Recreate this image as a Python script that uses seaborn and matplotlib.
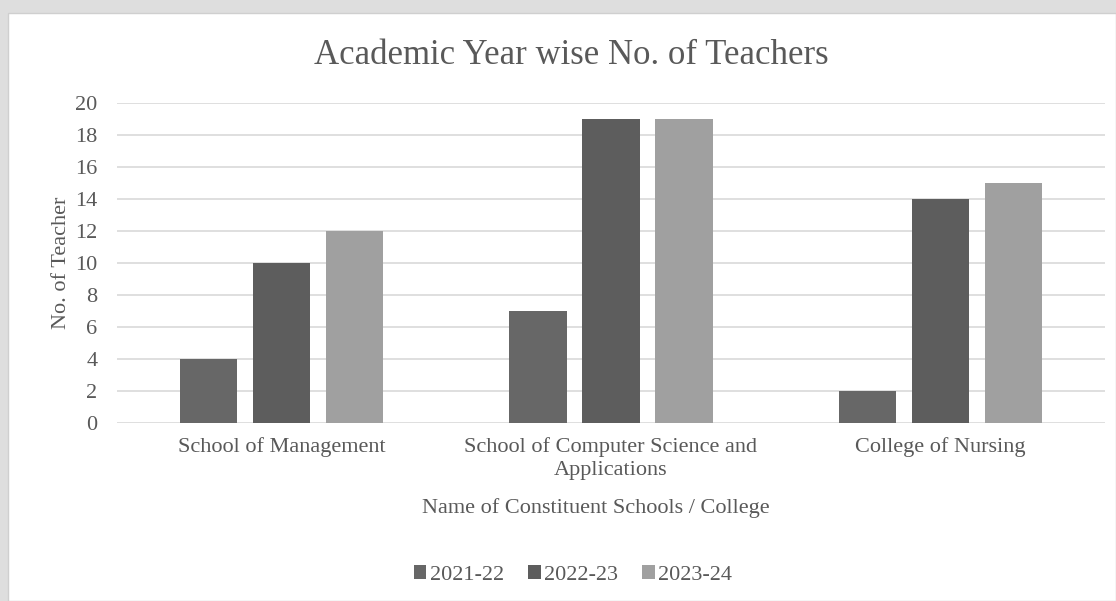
import matplotlib
matplotlib.use("Agg")
import matplotlib.pyplot as plt
import matplotlib.patches as mpatches
import seaborn as sns
import pandas as pd

categories = ["School of Management",
              "School of Computer Science and\nApplications",
              "College of Nursing"]
years = ["2021-22", "2022-23", "2023-24"]
v_2021 = [4, 7, 2]
v_2022 = [10, 19, 14]
v_2023 = [12, 19, 15]
yticks = [0, 2, 4, 6, 8, 10, 12, 14, 16, 18, 20]

rows = []
for yr, vals in zip(years, [v_2021, v_2022, v_2023]):
    for c, v in zip(categories, vals):
        rows.append({"School": c, "Year": yr, "Teachers": v})
df = pd.DataFrame(rows)

sns.set_theme(style="white")
plt.rcParams["font.family"] = ["Liberation Serif", "DejaVu Serif"]
TXT = "#595959"

W, H = 1116, 601
fig = plt.figure(figsize=(W / 100, H / 100), dpi=100)
fig.patch.set_facecolor("#dedede")
fig.patches.append(mpatches.Rectangle((8 / W, 0), 1 - 8 / W, 1 - 13 / H,
                                      transform=fig.transFigure,
                                      facecolor="white", edgecolor="#cfcfcf",
                                      lw=1, zorder=-5))

ax = fig.add_axes([117 / W, 1 - 423 / H, (1105 - 117) / W, (423 - 103) / H])
ax.set_facecolor("none")
palette = {"2021-22": "#676767", "2022-23": "#5d5d5d", "2023-24": "#a0a0a0"}
sns.barplot(data=df, x="School", y="Teachers", hue="Year", palette=palette,
            width=0.665, gap=0.219, ax=ax, saturation=1, legend=True,
            edgecolor="none", zorder=3)

ax.set_ylim(0, 20)
ax.set_xlim(-0.5, 2.5)
ax.set_yticks(yticks)
ax.yaxis.grid(True, color="#d9d9d9", lw=1.2, zorder=0)
ax.set_axisbelow(True)
for s in ax.spines.values():
    s.set_visible(False)
ax.tick_params(axis="both", length=0, colors=TXT, labelsize=16)
ax.tick_params(axis="y", pad=14)
ax.tick_params(axis="x", pad=10)
for lab in ax.get_xticklabels():
    lab.set_linespacing(1.32)

ax.set_ylabel("No. of Teacher", color=TXT, fontsize=16, labelpad=3)
ax.set_xlabel("Name of Constituent Schools / College", color=TXT, fontsize=16)
ax.xaxis.set_label_coords((596 - 117) / 988, -(498 - 423) / 320)

fig.text(571 / W, 1 - 55 / H, "Academic Year wise No. of Teachers",
         ha="center", va="center", fontsize=25, color=TXT)

handles, labels = ax.get_legend_handles_labels()
ax.legend_.remove()
fig.legend(handles, labels, loc="center", bbox_to_anchor=(573 / W, 1 - 575 / H),
           ncol=3, frameon=False, labelcolor=TXT,
           prop={"family": "Liberation Serif", "size": 16},
           handlelength=0.55, handleheight=0.55, handletextpad=0.15,
           columnspacing=1.1)

fig.savefig("out.png", dpi=100, facecolor=fig.get_facecolor())
